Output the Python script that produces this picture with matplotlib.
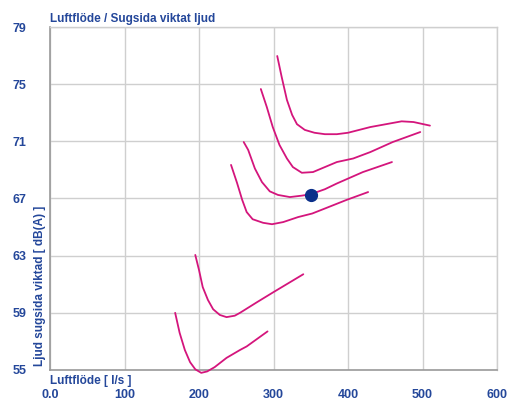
import matplotlib
matplotlib.use("Agg")
import matplotlib.pyplot as plt

# Data
curve_a_x = [168, 174, 181, 188, 195, 203, 211, 221, 237, 255, 264, 292]
curve_a_y = [59.0, 57.6, 56.4, 55.55, 55.05, 54.8, 54.9, 55.2, 55.85, 56.4, 56.65, 57.7]

curve_b_x = [195, 200, 205, 212, 219, 228, 237, 248, 255, 278, 300, 340]
curve_b_y = [63.05, 62.0, 60.8, 59.9, 59.25, 58.85, 58.7, 58.8, 59.0, 59.75, 60.45, 61.7]

curve_c_x = [243, 251, 258, 264, 272, 286, 298, 313, 333, 352, 369, 398, 427]
curve_c_y = [69.35, 68.1, 66.9, 66.05, 65.55, 65.3, 65.2, 65.35, 65.7, 65.95, 66.3, 66.9, 67.45]

curve_d_x = [260, 266, 275, 284.5, 295, 306, 322, 338, 350, 369, 385, 420, 459]
curve_d_y = [70.95, 70.4, 69.1, 68.15, 67.5, 67.25, 67.1, 67.2, 67.3, 67.65, 68.05, 68.85, 69.55]

curve_e_x = [283, 291, 299, 308, 318, 326, 338, 353, 369, 385, 407, 430, 460, 497]
curve_e_y = [74.66, 73.4, 72.0, 70.75, 69.8, 69.2, 68.8, 68.85, 69.2, 69.55, 69.8, 70.25, 70.95, 71.65]

curve_f_x = [305, 311, 318, 325, 331.5, 342, 355, 369, 385, 400, 430, 472, 488, 510]
curve_f_y = [76.97, 75.5, 73.9, 72.85, 72.2, 71.8, 71.6, 71.5, 71.5, 71.6, 72.0, 72.4, 72.35, 72.1]

point_x = [350]
point_y = [67.25]

x_ticks = [0, 100, 200, 300, 400, 500, 600]
x_tick_labels = ["0.0", "100", "200", "300", "400", "500", "600"]
y_ticks = [55, 59, 63, 67, 71, 75, 79]
y_tick_labels = ["55", "59", "63", "67", "71", "75", "79"]

title = "Luftflöde / Sugsida viktat ljud"
x_label = "Luftflöde [ l/s ]"
y_label = "Ljud sugsida viktad [ dB(A) ]"

TEXT = "#24479a"
CURVE = "#d4157c"
DOT = "#0b2f8a"
GRID = "#cfcfcf"

plt.rcParams["font.family"] = ["Liberation Sans", "DejaVu Sans"]

fig = plt.figure(figsize=(5.12, 4.01), dpi=100)
ax = fig.add_axes([50 / 512, 1 - 370 / 401, 447 / 512, 343 / 401])

for xs, ys in [(curve_a_x, curve_a_y), (curve_b_x, curve_b_y), (curve_c_x, curve_c_y),
               (curve_d_x, curve_d_y), (curve_e_x, curve_e_y), (curve_f_x, curve_f_y)]:
    ax.plot(xs, ys, color=CURVE, lw=1.3, solid_capstyle="round",
            solid_joinstyle="round", zorder=3, clip_on=False)

ax.plot(point_x, point_y, "o", color=DOT, markersize=8.5, zorder=4)

ax.set_xlim(0, 600)
ax.set_ylim(55, 79)
ax.set_xticks(x_ticks)
ax.set_yticks(y_ticks)
ax.set_xticklabels(x_tick_labels)
ax.set_yticklabels(y_tick_labels)
ax.tick_params(axis="both", length=0, labelcolor=TEXT, labelsize=9)
ax.tick_params(axis="y", pad=17)
ax.tick_params(axis="x", pad=13.5)
for lab in ax.get_xticklabels() + ax.get_yticklabels():
    lab.set_fontweight("bold")

ax.grid(True, color=GRID, lw=1.0)
ax.set_axisbelow(True)
for side in ["top", "right"]:
    ax.spines[side].set_color(GRID)
    ax.spines[side].set_linewidth(1.0)
for side in ["left", "bottom"]:
    ax.spines[side].set_color("#9a9a9a")
    ax.spines[side].set_linewidth(1.2)

fig.text(50 / 512, 1 - 19 / 401, title, color=TEXT, fontsize=8.5, fontweight="bold",
         ha="left", va="center")
fig.text(50 / 512, 1 - 381 / 401, x_label, color=TEXT, fontsize=8.5, fontweight="bold",
         ha="left", va="center")
fig.text(40 / 512, 1 - 366 / 401, y_label, color=TEXT, fontsize=8.5, fontweight="bold",
         ha="left", va="center", rotation=90, rotation_mode="anchor")

fig.savefig("out.png", dpi=100)
